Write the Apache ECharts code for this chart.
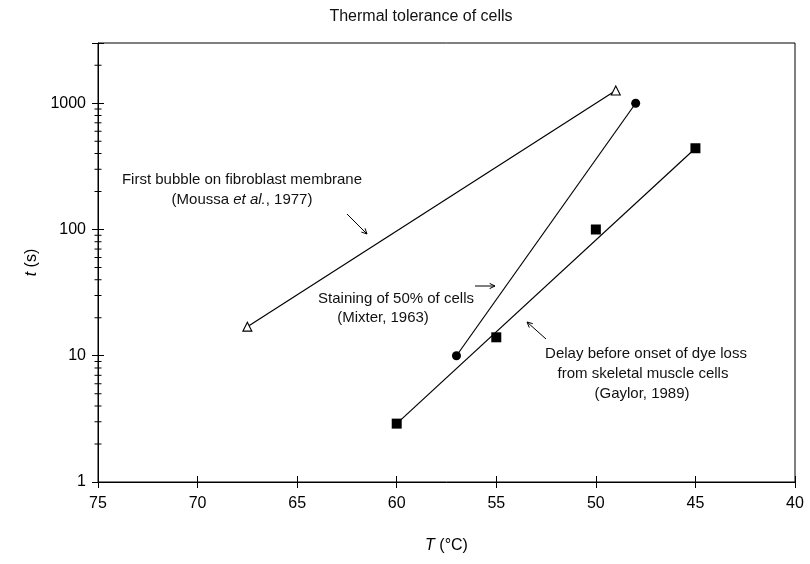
<!DOCTYPE html>
<html>
<head>
<meta charset="utf-8">
<script src="https://cdn.jsdelivr.net/npm/echarts@6/dist/echarts.min.js"></script>
<style>
  html, body { margin: 0; background: #fff; }
  #chart { width: 810px; height: 564px; }
</style>
</head>
<body>
<div id="chart"></div>
<script>
// temperature in degC, time in s
var bubbleT = [67.5, 49]
var bubbleTime = [17, 1260]
var stainT = [57, 48]
var stainTime = [10, 1000]
var dyeT = [60, 55, 50, 45]
var dyeTime = [2.9, 14, 100, 440]
var dyeFitT = [60, 45]
var dyeFitTime = [2.9, 440]
var yDecades = [1, 10, 100, 1000]

var FONT = '"Liberation Sans", Arial, sans-serif'
var ANNO_SIZE = 15

function zip(xs, ys) {
  return xs.map(function(x, i) { return [x, ys[i]] })
}

// log style minor ticks (2..9 in every decade), drawn on the left axis
var minorTicks = []
yDecades.forEach(function(d) {
  for (var k = 2; k <= 9; k++) {
    if (k * d < 3000) minorTicks.push([75, k * d])
  }
})

function arrow(x1, y1, x2, y2) {
  var a = Math.atan2(y2 - y1, x2 - x1)
  var h = 6
  var sp = 0.45
  return {
    type: 'group',
    children: [
      { type: 'line', shape: { x1: x1, y1: y1, x2: x2, y2: y2 }, style: { stroke: '#000', lineWidth: 1 } },
      {
        type: 'polyline',
        shape: { points: [
          [x2 - h * Math.cos(a - sp), y2 - h * Math.sin(a - sp)],
          [x2, y2],
          [x2 - h * Math.cos(a + sp), y2 - h * Math.sin(a + sp)]
        ] },
        style: { stroke: '#000', lineWidth: 1, fill: null }
      }
    ]
  }
}

function label(text, x, y) {
  return {
    type: 'text',
    x: x,
    y: y,
    style: {
      text: text,
      font: ANNO_SIZE + 'px ' + FONT,
      fill: '#111',
      textAlign: 'center',
      textVerticalAlign: 'middle',
      rich: { i: { fontStyle: 'italic', fontSize: ANNO_SIZE, fontFamily: FONT, fill: '#111' } }
    }
  }
}

var chart = echarts.init(document.getElementById('chart'))

var lineStyle = { color: '#000', width: 1.2 }

chart.setOption({
  animation: false,
  backgroundColor: '#fff',
  title: {
    text: 'Thermal tolerance of cells',
    left: 416,
    textAlign: 'center',
    top: 4,
    textStyle: { fontFamily: FONT, fontSize: 16, fontWeight: 'normal', color: '#111' }
  },
  grid: {
    left: 98,
    right: 15,
    top: 43,
    bottom: 82,
    show: true,
    borderColor: '#000',
    borderWidth: 1
  },
  xAxis: [{
    type: 'value',
    inverse: true,
    min: 40,
    max: 75,
    interval: 5,
    position: 'bottom',
    axisLine: { lineStyle: { color: '#000', width: 1 } },
    axisTick: { inside: false, length: 6, lineStyle: { color: '#000' } },
    axisLabel: { margin: 14, fontSize: 16, fontFamily: FONT, color: '#000' },
    splitLine: { show: false },
    name: '{i|T} (°C)',
    nameLocation: 'middle',
    nameGap: 56,
    nameTextStyle: {
      fontSize: 16, fontFamily: FONT, color: '#000',
      rich: { i: { fontStyle: 'italic', fontSize: 16, fontFamily: FONT, color: '#000' } }
    }
  }, {
    type: 'value',
    inverse: true,
    min: 40,
    max: 75,
    interval: 5,
    position: 'bottom',
    axisLine: { show: false },
    axisTick: { inside: true, length: 6, lineStyle: { color: '#000' } },
    axisLabel: { show: false },
    splitLine: { show: false }
  }],
  yAxis: [{
    type: 'log',
    logBase: 10,
    min: 1,
    max: 3000,
    position: 'left',
    axisLine: { show: true, lineStyle: { color: '#000', width: 1 } },
    axisTick: { inside: false, length: 6, lineStyle: { color: '#000' } },
    axisLabel: {
      margin: 12,
      fontSize: 16,
      fontFamily: FONT,
      color: '#000',
      formatter: function(v) {
        return yDecades.indexOf(Math.round(v)) >= 0 && Math.abs(v - Math.round(v)) < 1e-6 ? String(Math.round(v)) : ''
      }
    },
    splitLine: { show: false },
    name: '{i|t} (s)',
    nameLocation: 'middle',
    nameGap: 40,
    nameRotate: 90,
    nameTextStyle: {
      fontSize: 16, fontFamily: FONT, color: '#000',
      rich: { i: { fontStyle: 'italic', fontSize: 16, fontFamily: FONT, color: '#000' } }
    }
  }, {
    type: 'log',
    logBase: 10,
    min: 1,
    max: 3000,
    position: 'left',
    axisLine: { show: false },
    axisTick: { inside: true, length: 6, lineStyle: { color: '#000' } },
    axisLabel: { show: false },
    splitLine: { show: false }
  }],
  series: [
    {
      name: 'Moussa et al., 1977',
      type: 'line',
      data: zip(bubbleT, bubbleTime),
      symbol: 'triangle',
      symbolSize: 9,
      itemStyle: { color: '#fff', borderColor: '#000', borderWidth: 1.1 },
      lineStyle: lineStyle,
      z: 3
    },
    {
      name: 'Mixter, 1963',
      type: 'line',
      data: zip(stainT, stainTime),
      symbol: 'circle',
      symbolSize: 9,
      itemStyle: { color: '#000' },
      lineStyle: lineStyle,
      z: 3
    },
    {
      name: 'Gaylor, 1989 fit',
      type: 'line',
      data: zip(dyeFitT, dyeFitTime),
      symbol: 'none',
      lineStyle: lineStyle,
      z: 2
    },
    {
      name: 'Gaylor, 1989',
      type: 'scatter',
      data: zip(dyeT, dyeTime),
      symbol: 'rect',
      symbolSize: 10,
      itemStyle: { color: '#000', opacity: 1 },
      z: 4
    },
    {
      name: 'minor ticks',
      type: 'scatter',
      data: minorTicks,
      symbol: 'rect',
      symbolSize: [7, 1],
      itemStyle: { color: '#000', opacity: 1 },
      silent: true,
      clip: false,
      z: 5
    }
  ],
  graphic: [
    label('First bubble on fibroblast membrane', 242, 180),
    label('(Moussa {i|et al.}, 1977)', 242, 200),
    arrow(347, 214, 367, 234),
    label('Staining of 50% of cells', 396, 299),
    label('(Mixter, 1963)', 383, 318),
    arrow(475, 286, 495, 286),
    label('Delay before onset of dye loss', 646, 354),
    label('from skeletal muscle cells', 643, 374),
    label('(Gaylor, 1989)', 642, 394),
    arrow(546, 339, 527, 322)
  ]
})
</script>
</body>
</html>
